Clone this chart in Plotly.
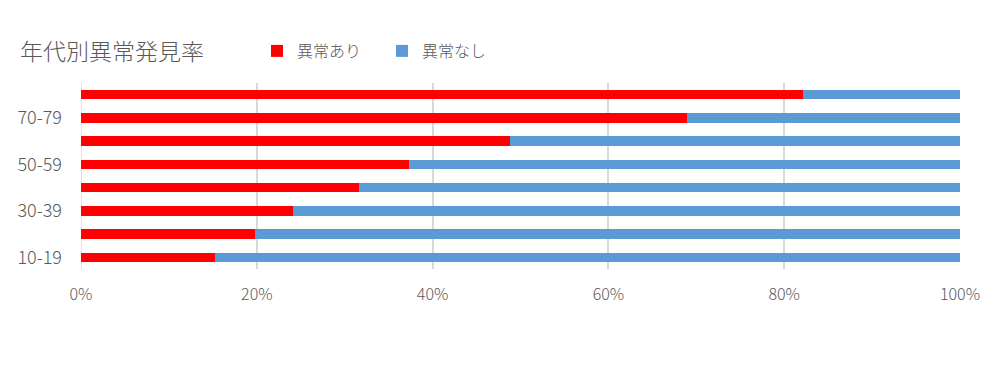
import plotly.graph_objects as go

categories = ["10-19", "20-29", "30-39", "40-49", "50-59", "60-69", "70-79", "80-89"]
abnormal = [15.3, 19.8, 24.1, 31.6, 37.3, 48.8, 68.9, 82.1]
normal = [100 - v for v in abnormal]
shown_labels = ["10-19", "30-39", "50-59", "70-79"]
x_ticks = [0, 20, 40, 60, 80, 100]
x_tick_text = ["0%", "20%", "40%", "60%", "80%", "100%"]

font_family = "Noto Sans CJK JP, Noto Sans, sans-serif"

fig = go.Figure()
fig.add_trace(go.Bar(y=categories, x=abnormal, orientation="h", name="異常あり",
                     marker=dict(color="#ff0000", line_width=0)))
fig.add_trace(go.Bar(y=categories, x=normal, orientation="h", name="異常なし",
                     marker=dict(color="#5b9bd5", line_width=0)))

fig.update_layout(
    width=1005, height=365,
    barmode="stack", bargap=0.59,
    paper_bgcolor="white", plot_bgcolor="white",
    margin=dict(l=73, r=53, t=75, b=104, autoexpand=False),
    font=dict(family=font_family, color="#595959", size=15, weight=300),
    title=dict(text="年代別異常発見率", xref="container", x=12 / 1005, xanchor="left",
               yref="container", y=1 - 44 / 365, yanchor="middle", automargin=False,
               font=dict(size=23, color="#595959", family=font_family, weight=300)),
    legend=dict(orientation="h", x=(257 - 81) / 879, xanchor="left",
                y=1 + 32 / 186, yanchor="middle",
                font=dict(size=16, color="#595959", weight=300), itemwidth=30,
                entrywidth=80, entrywidthmode="pixels",
                traceorder="normal"),
    xaxis=dict(range=[0, 100], tickvals=x_ticks, ticktext=x_tick_text,
               showgrid=True, gridcolor="#d9d9d9", gridwidth=1.5, zeroline=False,
               showline=False, ticks="", automargin=False, ticklabelstandoff=14,
               tickfont=dict(size=16, color="#595959", weight=300)),
    yaxis=dict(categoryorder="array", categoryarray=categories,
               tickvals=shown_labels, ticktext=shown_labels,
               showgrid=False, zeroline=False, showline=False, ticks="",
               ticklabelstandoff=18, automargin=False,
               tickfont=dict(size=18, color="#595959", weight=300)),
)
fig.add_shape(type="line", xref="x", yref="paper", x0=0, x1=0, y0=0, y1=1,
              line=dict(color="#d9d9d9", width=1.5), layer="below")

fig.write_html("out.html")
